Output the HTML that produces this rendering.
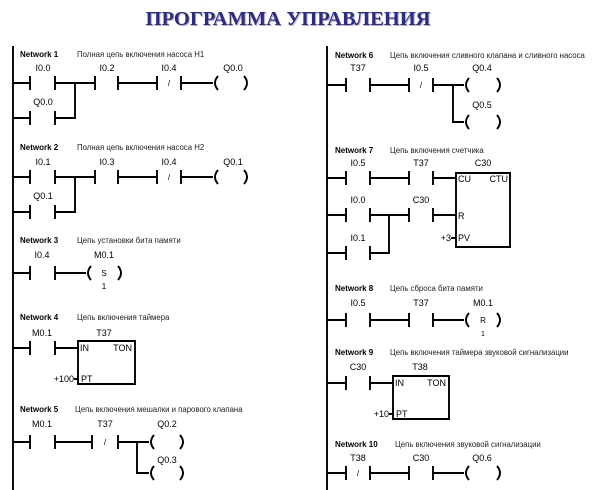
<!DOCTYPE html>
<html><head><meta charset="utf-8"><style>
html,body{margin:0;padding:0;background:#fff;width:610px;height:490px;overflow:hidden}
svg{display:block}
.t{font-family:"Liberation Serif",serif;font-weight:bold;font-size:20.5px;fill:#2b2b8c}
.n{font-family:"Liberation Sans",sans-serif;font-weight:bold;font-size:8px;fill:#000}
.d{font-family:"Liberation Sans","Noto Sans CJK SC",sans-serif;font-size:7.8px;fill:#222}
.l{font-family:"Liberation Sans",sans-serif;font-size:9px;fill:#000;text-anchor:middle}
.b{font-family:"Liberation Sans",sans-serif;font-size:9px;fill:#000}
path,line{stroke:#000;stroke-width:1.9;fill:none}
</style></head><body>
<svg width="610" height="490" viewBox="0 0 610 490">
<text class="t" x="288" y="25" text-anchor="middle" style="text-shadow:1px 1px 0px #b0b0cc">ПРОГРАММА УПРАВЛЕНИЯ</text>
<line x1="13" y1="46" x2="13" y2="490"/>
<line x1="327" y1="46" x2="327" y2="490"/>

<!-- N1 -->
<text class="n" x="20" y="57">Network 1</text><text class="d" x="77" y="57">Полная цепь включения насоса H1</text>
<text class="l" x="43" y="71">I0.0</text><text class="l" x="107" y="71">I0.2</text><text class="l" x="169" y="71">I0.4</text><text class="l" x="233" y="71">Q0.0</text>
<path d="M13 83H30M30 76V90M55 76V90M55 83H95M95 76V90M118 76V90M118 83H157M157 76V90M181 76V90M181 83H213"/>
<text class="l" x="169" y="86" style="font-size:8px">/</text>
<path d="M218 76Q212 83 218 90M244 76Q250 83 244 90"/>
<text class="l" x="43" y="105">Q0.0</text>
<path d="M13 118H30M30 111V125M55 111V125M55 118H75V83"/>

<!-- N2 -->
<text class="n" x="20" y="150">Network 2</text><text class="d" x="77" y="150">Полная цепь включения насоса H2</text>
<text class="l" x="43" y="165">I0.1</text><text class="l" x="107" y="165">I0.3</text><text class="l" x="169" y="165">I0.4</text><text class="l" x="233" y="165">Q0.1</text>
<path d="M13 177H30M30 170V184M55 170V184M55 177H95M95 170V184M118 170V184M118 177H157M157 170V184M181 170V184M181 177H213"/>
<text class="l" x="169" y="180" style="font-size:8px">/</text>
<path d="M218 170Q212 177 218 184M244 170Q250 177 244 184"/>
<text class="l" x="43" y="199">Q0.1</text>
<path d="M13 212H30M30 205V219M55 205V219M55 212H75V177"/>

<!-- N3 -->
<text class="n" x="20" y="243">Network 3</text><text class="d" x="77" y="243">Цепь установки бита памяти</text>
<text class="l" x="42" y="258">I0.4</text><text class="l" x="104" y="258">M0.1</text>
<path d="M13 273H30M30 266V280M55 266V280M55 273H86"/>
<path d="M91 266Q85 273 91 280M118 266Q124 273 118 280"/>
<text class="l" x="104" y="276" style="font-size:8px">S</text>
<text class="l" x="104" y="289" style="font-size:8px">1</text>

<!-- N4 -->
<text class="n" x="20" y="320">Network 4</text><text class="d" x="77" y="320">Цепь включения таймера</text>
<text class="l" x="42" y="336">M0.1</text><text class="l" x="104" y="336">T37</text>
<path d="M13 348H30M30 341V355M55 341V355M55 348H78"/>
<path d="M78 341H135V384H78Z"/>
<text class="b" x="80" y="351">IN</text><text class="b" x="132" y="351" text-anchor="end">TON</text>
<text class="b" x="81" y="382">PT</text><text class="b" x="74" y="382" text-anchor="end">+100</text>
<path d="M74 379H78"/>

<!-- N5 -->
<text class="n" x="20" y="412">Network 5</text><text class="d" x="75" y="412">Цепь включения мешалки и парового клапана</text>
<text class="l" x="42" y="427">M0.1</text><text class="l" x="105" y="427">T37</text><text class="l" x="167" y="427">Q0.2</text><text class="l" x="167" y="463">Q0.3</text>
<path d="M13 442H30M30 435V449M55 435V449M55 442H92M92 435V449M118 435V449M118 442H149M137 442V473H149"/>
<text class="l" x="105" y="445" style="font-size:8px">/</text>
<path d="M154 435Q148 442 154 449M180 435Q186 442 180 449M154 466Q148 473 154 480M180 466Q186 473 180 480"/>

<!-- N6 -->
<text class="n" x="335" y="58">Network 6</text><text class="d" x="390" y="58">Цепь включения сливного клапана и сливного насоса</text>
<text class="l" x="358" y="71">T37</text><text class="l" x="421" y="71">I0.5</text><text class="l" x="482" y="71">Q0.4</text><text class="l" x="482" y="108">Q0.5</text>
<path d="M327 85H346M346 78V92M370 78V92M370 85H409M409 78V92M433 78V92M433 85H464M453 85V122H464"/>
<text class="l" x="421" y="88" style="font-size:8px">/</text>
<path d="M469 78Q463 85 469 92M497 78Q503 85 497 92M469 115Q463 122 469 129M497 115Q503 122 497 129"/>

<!-- N7 -->
<text class="n" x="335" y="153">Network 7</text><text class="d" x="390" y="153">Цепь включения счетчика</text>
<text class="l" x="358" y="166">I0.5</text><text class="l" x="421" y="166">T37</text><text class="l" x="483" y="166">C30</text>
<path d="M327 178H346M346 171V185M370 171V185M370 178H409M409 171V185M433 171V185M433 178H456"/>
<path d="M456 173H510V247H456Z"/>
<text class="b" x="458" y="182">CU</text><text class="b" x="508" y="182" text-anchor="end">CTU</text>
<text class="b" x="458" y="219">R</text><text class="b" x="458" y="241">PV</text><text class="b" x="451" y="241" text-anchor="end">+3</text>
<path d="M451 238H456"/>
<text class="l" x="358" y="203">I0.0</text><text class="l" x="421" y="203">C30</text>
<path d="M327 215H346M346 208V222M370 208V222M370 215H409M409 208V222M433 208V222M433 215H456"/>
<text class="l" x="358" y="241">I0.1</text>
<path d="M327 253H346M346 246V260M370 246V260M370 253H389V215"/>

<!-- N8 -->
<text class="n" x="335" y="291">Network 8</text><text class="d" x="390" y="291">Цепь сброса бита памяти</text>
<text class="l" x="358" y="306">I0.5</text><text class="l" x="421" y="306">T37</text><text class="l" x="483" y="306">M0.1</text>
<path d="M327 320H346M346 313V327M370 313V327M370 320H409M409 313V327M433 313V327M433 320H464"/>
<path d="M469 313Q463 320 469 327M497 313Q503 320 497 327"/>
<text class="l" x="483" y="323" style="font-size:8px">R</text>
<text class="l" x="483" y="336" style="font-size:7px">1</text>

<!-- N9 -->
<text class="n" x="335" y="355">Network 9</text><text class="d" x="390" y="355">Цепь включения таймера звуковой сигнализации</text>
<text class="l" x="358" y="370">C30</text><text class="l" x="420" y="370">T38</text>
<path d="M327 383H346M346 376V390M370 376V390M370 383H393"/>
<path d="M393 376H449V419H393Z"/>
<text class="b" x="395" y="386">IN</text><text class="b" x="446" y="386" text-anchor="end">TON</text>
<text class="b" x="396" y="417">PT</text><text class="b" x="389" y="417" text-anchor="end">+10</text>
<path d="M389 414H393"/>

<!-- N10 -->
<text class="n" x="335" y="447">Network 10</text><text class="d" x="395" y="447">Цепь включения звуковой сигнализации</text>
<text class="l" x="358" y="461">T38</text><text class="l" x="421" y="461">C30</text><text class="l" x="482" y="461">Q0.6</text>
<path d="M327 473H346M346 466V480M370 466V480M370 473H409M409 466V480M433 466V480M433 473H464"/>
<text class="l" x="358" y="476" style="font-size:8px">/</text>
<path d="M469 466Q463 473 469 480M497 466Q503 473 497 480"/>
</svg>
</body></html>
